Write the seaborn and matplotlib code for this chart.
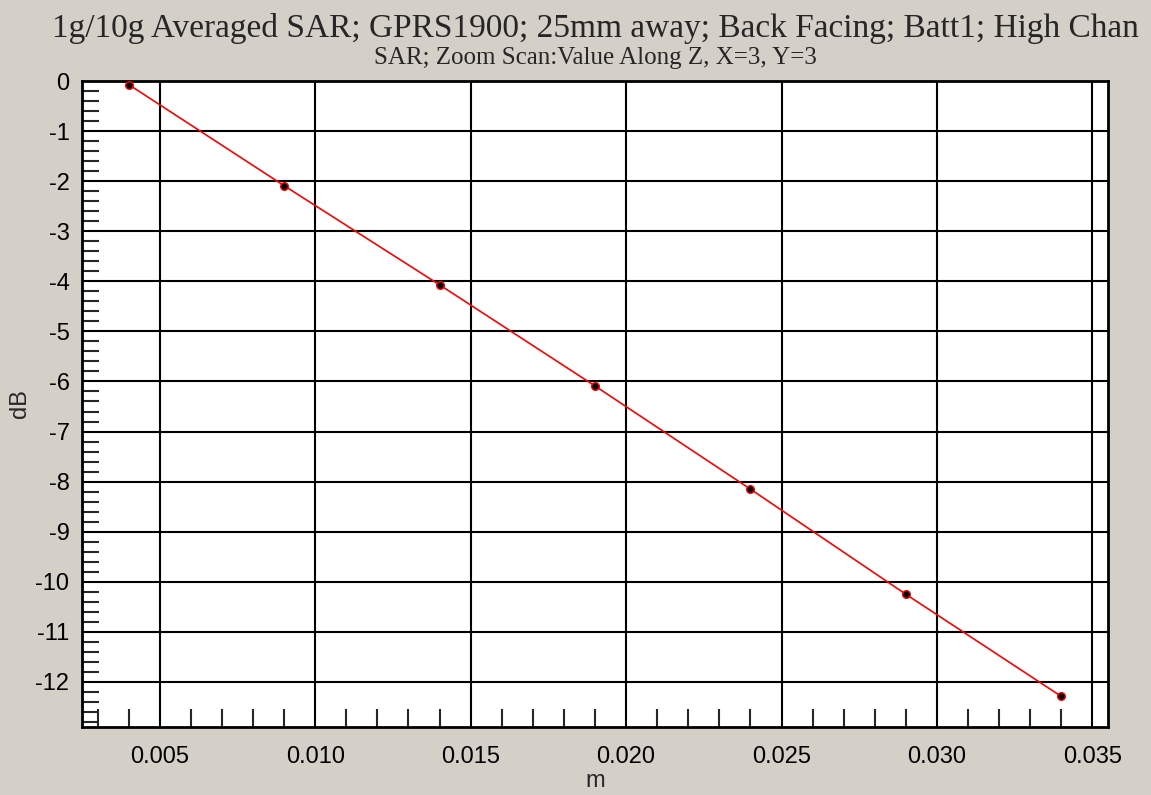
import matplotlib
matplotlib.use("Agg")
import matplotlib.pyplot as plt
from matplotlib.ticker import MultipleLocator, FormatStrFormatter
import seaborn as sns
import pandas as pd

# Distance from the phantom surface (m) and relative SAR (dB)
distance_m = [0.004, 0.009, 0.014, 0.019, 0.024, 0.029, 0.034]
sar_db = [-0.07, -2.09, -4.07, -6.09, -8.15, -10.25, -12.29]

title = "1g/10g Averaged SAR; GPRS1900; 25mm away; Back Facing; Batt1; High Chan"
subtitle = "SAR; Zoom Scan:Value Along Z, X=3, Y=3"
x_label = "m"
y_label = "dB"

sns.set_style("white")
plt.rcParams["font.family"] = ["Liberation Sans", "DejaVu Sans"]
plt.rcParams["axes.unicode_minus"] = False

bg = "#D4D0C8"
W, H = 1151, 795
fig = plt.figure(figsize=(W / 100, H / 100), dpi=100, facecolor=bg)
left, right, top, bottom = 82, 1108, 81, 727
ax = fig.add_axes([left / W, 1 - bottom / H, (right - left) / W, (bottom - top) / H])
ax.set_facecolor("white")

df = pd.DataFrame({"m": distance_m, "dB": sar_db})
sns.lineplot(data=df, x="m", y="dB", ax=ax, color="red", linewidth=1.2,
             marker="o", markersize=5.5, markerfacecolor="black",
             markeredgecolor="red", markeredgewidth=1.0, zorder=5)

ax.set_xlim(0.0025, 0.0355)
ax.set_ylim(-12.9, 0)

ax.xaxis.set_major_locator(MultipleLocator(0.005))
ax.xaxis.set_minor_locator(MultipleLocator(0.001))
ax.xaxis.set_major_formatter(FormatStrFormatter("%.3f"))
ax.yaxis.set_major_locator(MultipleLocator(1))
ax.yaxis.set_minor_locator(MultipleLocator(0.2))
ax.yaxis.set_major_formatter(FormatStrFormatter("%d"))

ax.grid(True, which="major", color="black", linewidth=1.5)
ax.set_axisbelow(True)

for s in ax.spines.values():
    s.set_color("black")
    s.set_linewidth(2.0)

ax.tick_params(axis="x", which="major", direction="out", length=11, width=2,
               labelsize=17, pad=3, colors="black")
ax.tick_params(axis="y", which="major", direction="out", length=7, width=2,
               labelsize=17, pad=2, colors="black")
ax.tick_params(axis="x", which="minor", direction="in", length=13, width=1.5,
               bottom=True)
ax.tick_params(axis="y", which="minor", direction="in", length=12, width=1.5,
               left=True)

ax.set_xlabel(x_label, fontsize=17, labelpad=1)
ax.set_ylabel("")
fig.text(20 / W, 1 - 404 / H, y_label, rotation=90, ha="center", va="center",
         fontsize=17)

cx = (left + right) / 2 / W
fig.text(cx, 1 - 28 / H, title, ha="center", va="center",
         fontsize=24, family=["Liberation Serif", "DejaVu Serif"])
fig.text(cx, 1 - 58 / H, subtitle, ha="center", va="center",
         fontsize=18, family=["Liberation Serif", "DejaVu Serif"])

fig.savefig("out.png", dpi=100, facecolor=bg)
